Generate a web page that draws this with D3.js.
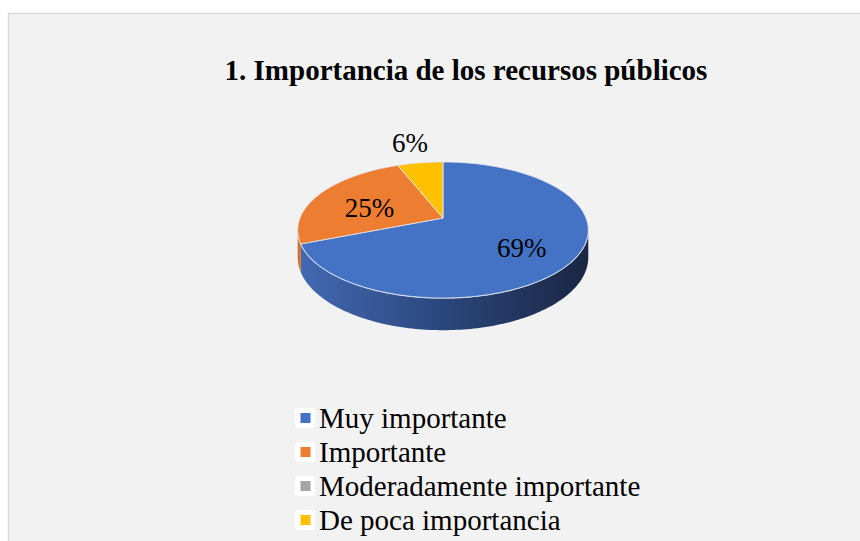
<!DOCTYPE html>
<html>
<head>
<meta charset="utf-8">
<script src="https://cdn.jsdelivr.net/npm/d3@7"></script>
</head>
<body style="margin:0">
<script>
// chart data
const title = "1. Importancia de los recursos públicos";
const categories = ["Muy importante", "Importante", "Moderadamente importante", "De poca importancia"];
const values = [69, 25, 0, 6];

// styling
const serif = "Liberation Serif";
const colors = ["#4472c4", "#ed7d31", "#a5a5a5", "#ffc000"];
const sideColors = [["#4369b3", "#2b467c", "#1a2744"], ["#d06f2b", "#a55520", "#7a3d15"],
                    ["#8f8f8f", "#6a6a6a", "#4a4a4a"], ["#dba600", "#b08400", "#7a5c00"]];

const width = 860, height = 541;
const cx = 443, cy = 218, rx = 143, ry = 65.9, persp = 0.1765, depth = 26.5;

const svg = d3.select("body").append("svg")
    .attr("width", width)
    .attr("height", height)
    .attr("font-family", serif)
    .style("display", "block");

// chart area panel
svg.append("rect")
    .attr("x", 8.5).attr("y", 13.5)
    .attr("width", width).attr("height", height)
    .attr("fill", "#f2f2f2")
    .attr("stroke", "#d9d9d9")
    .attr("stroke-width", 1.5);

svg.append("text")
    .attr("x", 466).attr("y", 80)
    .attr("text-anchor", "middle")
    .attr("font-family", serif)
    .attr("font-weight", "bold")
    .attr("font-size", 29)
    .text(title);

// perspective projection of a point on the disc (angle clockwise from top)
function proj(a, k = 1, dz = 0) {
    const u = Math.sin(a), v = Math.cos(a);
    const s = 1 / (1 + persp * v);
    return [cx + rx * k * u * s, cy - ry * k * v * s + dz * s];
}
function arcPoints(a0, a1, dz) {
    const n = Math.max(2, Math.ceil(Math.abs(a1 - a0) / 0.02) + 1);
    return d3.range(n).map(i => proj(a0 + (a1 - a0) * i / (n - 1), 1, dz));
}

const pie = d3.pie().sort(null).value(d => d)(values);

const defs = svg.append("defs");
sideColors.forEach((c, i) => {
    const g = defs.append("linearGradient")
        .attr("id", "side" + i)
        .attr("gradientUnits", "userSpaceOnUse")
        .attr("x1", cx - rx).attr("x2", cx + rx).attr("y1", 0).attr("y2", 0);
    g.selectAll("stop").data(c).join("stop")
        .attr("offset", (d, j) => j / (c.length - 1))
        .attr("stop-color", d => d);
});

// visible front side runs between the two horizontal extremes
const aRight = Math.acos(-persp), aLeft = 2 * Math.PI - aRight;
const line = d3.line();

const sides = svg.append("g");
pie.forEach((p, i) => {
    const a0 = Math.max(p.startAngle, aRight), a1 = Math.min(p.endAngle, aLeft);
    if (a1 <= a0) return;
    const pts = arcPoints(a0, a1, 0).concat(arcPoints(a1, a0, depth));
    sides.append("path")
        .attr("d", line(pts) + "Z")
        .attr("fill", "url(#side" + i + ")");
});
svg.append("path")
    .attr("d", line(arcPoints(aRight, aLeft, 0)))
    .attr("fill", "none")
    .attr("stroke", "#dde4f2")
    .attr("stroke-width", 1.2);

const topFace = svg.append("g");
pie.forEach((p, i) => {
    if (p.endAngle - p.startAngle <= 0) return;
    const pts = [[cx, cy]].concat(arcPoints(p.startAngle, p.endAngle, 0));
    topFace.append("path")
        .attr("d", line(pts) + "Z")
        .attr("fill", colors[i])
        .attr("stroke", "#e4e9f3")
        .attr("stroke-opacity", 0.8)
        .attr("stroke-width", 1);
});

// data labels
pie.forEach(p => {
    if (p.value <= 0) return;
    const mid = (p.startAngle + p.endAngle) / 2;
    const inside = (p.endAngle - p.startAngle) > 0.1 * 2 * Math.PI;
    const [x, y] = proj(mid, inside ? 0.6 : 1.45, 0);
    svg.append("text")
        .attr("x", x).attr("y", y + 5)
        .attr("text-anchor", "middle")
        .attr("dominant-baseline", "central")
        .attr("font-family", serif)
        .attr("font-size", 27)
        .text(p.value + "%");
});

// legend
const legend = svg.append("g").attr("transform", "translate(295, 428)");
const item = legend.selectAll("g").data(categories).join("g")
    .attr("transform", (d, i) => `translate(0, ${i * 34})`);
item.append("rect")
    .attr("x", 0).attr("y", -20).attr("width", 20).attr("height", 20).attr("rx", 3)
    .attr("fill", "#ffffff");
item.append("rect")
    .attr("x", 5.5).attr("y", -15).attr("width", 10).attr("height", 10)
    .attr("fill", (d, i) => colors[i]);
item.append("text")
    .attr("x", 24).attr("y", 0)
    .attr("font-family", serif)
    .attr("font-size", 29)
    .text(d => d);
</script>
</body>
</html>
